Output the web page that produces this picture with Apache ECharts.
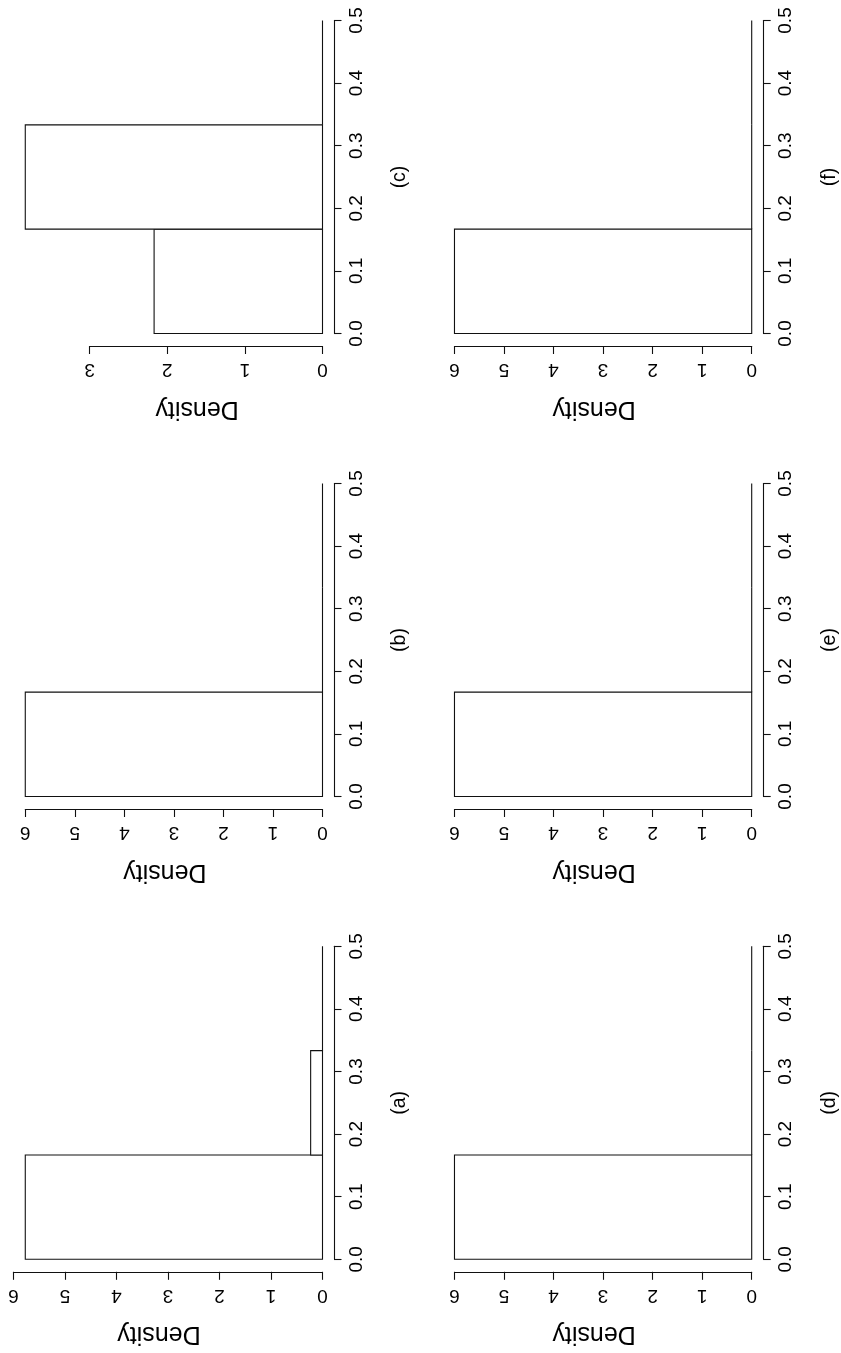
<!DOCTYPE html>
<html>
<head>
<meta charset="utf-8">
<script src="https://cdn.jsdelivr.net/npm/echarts@6/dist/echarts.min.js"></script>
<style>
html, body { margin: 0; padding: 0; background: #fff; }
#chart { width: 841px; height: 1353px; }
</style>
</head>
<body>
<div id="chart"></div>
<script>
// histogram breaks shared by every panel
const breaks = [0, 0.1667, 0.3333, 0.5]
const panelNames = ['(a)', '(b)', '(c)', '(d)', '(e)', '(f)']
// bin densities
const densityA = [5.77, 0.23, 0]
const densityB = [6, 0, 0]
const densityC = [2.17, 3.83, 0]
const densityD = [6, 0, 0]
const densityE = [6, 0, 0]
const densityF = [6, 0, 0]
const densityTickMax = [6, 6, 3, 6, 6, 6]

const panels = [densityA, densityB, densityC, densityD, densityE, densityF]

// page is the R figure turned a quarter turn, so (a) sits bottom left
const COL_ZERO = [322.5, 751.7]
const ROW_BOTTOM = [333.5, 796.5, 1259.3]
const BIN_SPAN = 313
const REGION = 321
const FONT = 'Liberation Sans, Arial, sans-serif'

const lineStyle = { color: '#111', width: 1.1 }

const renderBin = (params, api) => {
  let p0 = api.coord([0, api.value(0)])
  let p1 = api.coord([api.value(2), api.value(1)])
  return {
    type: 'polygon',
    shape: {
      points: [[p0[0], p0[1]], [p1[0], p0[1]], [p1[0], p1[1]], [p0[0], p1[1]]]
    },
    style: { fill: '#fff', stroke: '#111', lineWidth: 1.1 }
  }
}

let grids = []
let xAxes = []
let yAxes = []
let series = []

panels.forEach((dens, i) => {
  let col = i < 3 ? 0 : 1
  let row = 2 - (i % 3)
  let maxD = Math.max(...dens)
  let ppu = REGION / (1.08 * maxD)
  let width = densityTickMax[i] * ppu
  grids.push({
    left: COL_ZERO[col] - width,
    top: ROW_BOTTOM[row] - BIN_SPAN,
    width: width,
    height: BIN_SPAN
  })
  xAxes.push({
    gridIndex: i,
    type: 'value',
    min: 0,
    max: densityTickMax[i],
    interval: 1,
    inverse: true,
    position: 'bottom',
    offset: 12.5,
    axisLine: { show: true, onZero: false, lineStyle: lineStyle },
    axisTick: { show: true, length: 8, lineStyle: lineStyle },
    splitLine: { show: false },
    axisLabel: { rotate: 180, margin: 14, fontSize: 19, color: '#000', fontFamily: FONT },
    name: 'Density',
    nameLocation: 'middle',
    nameRotate: 180,
    nameGap: 50,
    nameTextStyle: { fontSize: 25, color: '#000', fontFamily: FONT, padding: [0, 0, 0, 18] }
  })
  yAxes.push({
    gridIndex: i,
    type: 'value',
    min: 0,
    max: 0.5,
    interval: 0.1,
    position: 'right',
    offset: 11.5,
    axisLine: { show: true, onZero: false, lineStyle: lineStyle },
    axisTick: { show: true, length: 7.5, lineStyle: lineStyle },
    splitLine: { show: false },
    axisLabel: {
      rotate: 90,
      margin: 13,
      fontSize: 19,
      color: '#000',
      fontFamily: FONT,
      formatter: v => v.toFixed(1)
    },
    name: panelNames[i],
    nameLocation: 'middle',
    nameRotate: 90,
    nameGap: 56,
    nameTextStyle: { fontSize: 19.5, color: '#000', fontFamily: FONT }
  })
  let bins = dens.map((d, k) => [breaks[k], breaks[k + 1], d])
  series.push({
    type: 'custom',
    xAxisIndex: i,
    yAxisIndex: i,
    renderItem: renderBin,
    encode: { x: 2, y: [0, 1] },
    clip: false,
    silent: true,
    animation: false,
    data: bins
  })
})

const chart = echarts.init(document.getElementById('chart'))
chart.setOption({
  animation: false,
  backgroundColor: '#fff',
  grid: grids,
  xAxis: xAxes,
  yAxis: yAxes,
  series: series
})
</script>
</body>
</html>
